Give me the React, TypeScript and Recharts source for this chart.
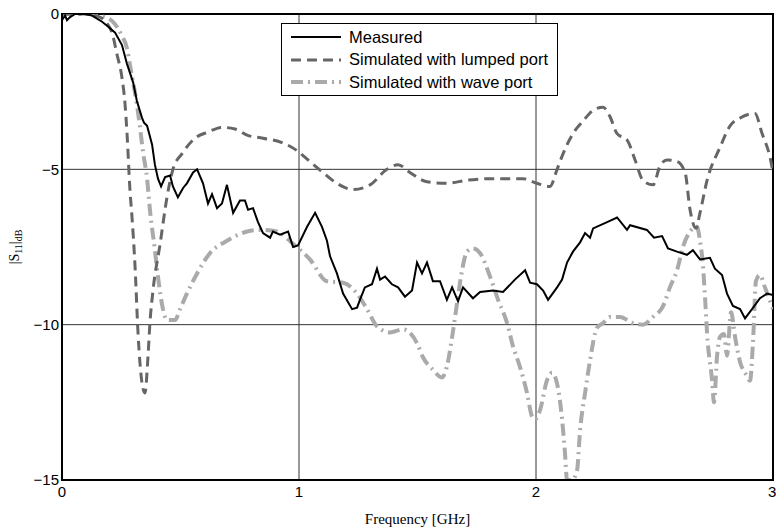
import { CartesianGrid, Legend, Line, LineChart, ReferenceArea, XAxis, YAxis } from 'recharts';

// frequency in GHz, |S11| in dB
const measuredF = [0, 0.013, 0.021, 0.034, 0.055, 0.097, 0.127, 0.169, 0.194, 0.224, 0.253, 0.274, 0.3, 0.316, 0.338, 0.346, 0.359, 0.38, 0.392, 0.405, 0.418, 0.435, 0.456, 0.468, 0.489, 0.511, 0.527, 0.553, 0.57, 0.595, 0.616, 0.633, 0.654, 0.675, 0.696, 0.722, 0.751, 0.772, 0.785, 0.806, 0.827, 0.848, 0.878, 0.89, 0.92, 0.954, 0.975, 0.996, 1.034, 1.068, 1.097, 1.118, 1.131, 1.16, 1.186, 1.224, 1.245, 1.257, 1.278, 1.308, 1.329, 1.342, 1.363, 1.392, 1.418, 1.447, 1.477, 1.498, 1.519, 1.54, 1.565, 1.595, 1.624, 1.646, 1.671, 1.692, 1.734, 1.764, 1.819, 1.861, 1.911, 1.954, 1.975, 2.004, 2.03, 2.051, 2.089, 2.11, 2.131, 2.156, 2.186, 2.207, 2.228, 2.241, 2.3, 2.342, 2.384, 2.397, 2.468, 2.498, 2.532, 2.557, 2.595, 2.637, 2.662, 2.692, 2.734, 2.755, 2.785, 2.806, 2.831, 2.861, 2.882, 2.916, 2.945, 2.975, 3.0];
const measuredDb = [-0.2, -0.05, -0.2, -0.1, 0, 0, -0.05, -0.25, -0.4, -0.6, -1.0, -1.6, -2.2, -2.8, -3.35, -3.5, -3.6, -4.2, -4.85, -5.3, -5.55, -5.25, -5.2, -5.55, -5.9, -5.6, -5.45, -5.1, -5.0, -5.45, -6.1, -5.8, -6.25, -6.1, -5.5, -6.4, -6.0, -6.0, -6.3, -6.25, -6.7, -7.05, -7.2, -7.0, -7.1, -7.0, -7.5, -7.45, -6.85, -6.4, -6.85, -7.3, -7.8, -8.35, -9.0, -9.5, -9.45, -9.2, -8.8, -8.7, -8.2, -8.55, -8.45, -8.7, -8.8, -9.1, -8.9, -8.0, -8.35, -8.0, -8.6, -8.6, -9.2, -8.8, -9.25, -8.8, -9.15, -8.95, -8.9, -8.95, -8.55, -8.25, -8.65, -8.7, -8.9, -9.2, -8.8, -8.55, -8.0, -7.65, -7.35, -7.05, -7.2, -6.9, -6.7, -6.55, -6.95, -6.8, -6.95, -7.2, -7.15, -7.55, -7.65, -7.75, -7.6, -7.9, -7.85, -8.2, -8.4, -9.0, -9.4, -9.5, -9.8, -9.45, -9.15, -9.0, -9.05];

const lumpedF = [0, 0.097, 0.16, 0.19, 0.211, 0.232, 0.253, 0.266, 0.274, 0.287, 0.295, 0.308, 0.321, 0.338, 0.35, 0.363, 0.371, 0.384, 0.414, 0.443, 0.468, 0.506, 0.561, 0.616, 0.675, 0.73, 0.781, 0.848, 0.932, 0.992, 1.046, 1.101, 1.16, 1.228, 1.3, 1.371, 1.418, 1.468, 1.54, 1.624, 1.709, 1.819, 1.945, 2.004, 2.059, 2.089, 2.114, 2.156, 2.198, 2.241, 2.283, 2.312, 2.342, 2.384, 2.418, 2.451, 2.494, 2.523, 2.553, 2.595, 2.629, 2.65, 2.675, 2.692, 2.722, 2.776, 2.819, 2.861, 2.924, 2.954, 2.987, 3.0];
const lumpedDb = [0, 0, -0.1, -0.3, -0.6, -1.3, -2.05, -2.9, -3.8, -5.7, -6.5, -8.1, -10.3, -11.9, -12.2, -11.0, -9.95, -8.9, -7.4, -5.9, -5.0, -4.5, -4.0, -3.8, -3.65, -3.7, -3.9, -4.0, -4.15, -4.4, -4.75, -5.1, -5.45, -5.65, -5.5, -5.0, -4.85, -5.1, -5.4, -5.45, -5.35, -5.3, -5.3, -5.45, -5.55, -5.0, -4.5, -3.85, -3.45, -3.1, -3.0, -3.3, -3.85, -4.05, -4.7, -5.35, -5.5, -4.9, -4.7, -4.75, -5.1, -6.3, -6.9, -6.4, -5.35, -4.3, -3.6, -3.35, -3.2, -3.85, -4.6, -5.1];

const waveF = [0, 0.055, 0.11, 0.181, 0.215, 0.253, 0.274, 0.287, 0.3, 0.316, 0.329, 0.342, 0.359, 0.371, 0.392, 0.405, 0.426, 0.443, 0.477, 0.498, 0.527, 0.57, 0.624, 0.696, 0.781, 0.835, 0.907, 0.975, 1.046, 1.118, 1.186, 1.245, 1.287, 1.329, 1.384, 1.439, 1.498, 1.523, 1.565, 1.603, 1.624, 1.646, 1.667, 1.688, 1.709, 1.734, 1.764, 1.806, 1.84, 1.878, 1.903, 1.932, 1.962, 1.983, 1.996, 2.017, 2.046, 2.068, 2.089, 2.11, 2.122, 2.131, 2.152, 2.173, 2.186, 2.207, 2.228, 2.257, 2.283, 2.312, 2.354, 2.409, 2.451, 2.494, 2.536, 2.565, 2.595, 2.62, 2.65, 2.679, 2.692, 2.705, 2.713, 2.722, 2.743, 2.751, 2.764, 2.776, 2.793, 2.806, 2.823, 2.84, 2.861, 2.886, 2.903, 2.916, 2.928, 2.945, 2.966, 3.0];
const waveDb = [0, 0, 0, -0.1, -0.25, -0.7, -1.1, -1.65, -2.2, -2.9, -3.65, -4.45, -5.3, -6.3, -7.6, -8.45, -9.5, -9.85, -9.85, -9.5, -9.0, -8.35, -7.7, -7.3, -7.0, -6.95, -7.0, -7.4, -7.9, -8.6, -8.65, -9.0, -9.5, -10.05, -10.25, -10.15, -10.6, -11.05, -11.45, -11.7, -11.35, -10.4, -9.3, -8.25, -7.65, -7.55, -7.7, -8.45, -9.2, -9.95, -10.7, -11.35, -12.2, -12.95, -13.05, -12.75, -11.8, -11.55, -11.9, -13.05, -14.1, -15, -15, -14.7, -13.4, -12.2, -11.15, -10.1, -9.95, -9.75, -9.75, -9.95, -10.0, -9.75, -9.4, -8.8, -8.25, -7.5, -7.0, -6.85, -7.3, -8.15, -9.1, -10.3, -11.8, -12.5, -11.0, -10.4, -10.3, -11.0, -9.6, -10.4, -11.2, -11.6, -11.8, -10.5, -8.6, -8.4, -8.8, -9.5];

const xTicks = [0, 1, 2, 3];
const yTicks = [-15, -10, -5, 0];
const seriesNames = ['Measured', 'Simulated with lumped port', 'Simulated with wave port'];

const toRows = (f: number[], v: number[]) => f.map((x, i) => ({ f: x, v: v[i] }));
const measured = toRows(measuredF, measuredDb);
const lumped = toRows(lumpedF, lumpedDb);
const wave = toRows(waveF, waveDb);

const styles = [
  { stroke: '#000000', width: 2, dash: undefined as string | undefined },
  { stroke: '#666666', width: 3, dash: '10 6' },
  { stroke: '#aaaaaa', width: 4, dash: '12 5 2 5' },
];

const sans = '"Liberation Sans", Arial, sans-serif';
const serif = '"Liberation Serif", "DejaVu Serif", serif';

const LegendBox = () => (
  <div
    style={{
      border: '1px solid #000',
      background: '#fff',
      width: 277,
      height: 73,
      boxSizing: 'border-box',
      paddingTop: 2,
      fontFamily: sans,
      fontSize: 16.5,
      color: '#000',
    }}
  >
    {seriesNames.map((name, i) => (
      <div key={name} style={{ display: 'flex', alignItems: 'center', height: 22.5 }}>
        <svg width={67} height={10} style={{ flex: 'none' }}>
          <line
            x1={9}
            x2={59}
            y1={5}
            y2={5}
            stroke={styles[i].stroke}
            strokeWidth={styles[i].width}
            strokeDasharray={styles[i].dash}
          />
        </svg>
        <span style={{ whiteSpace: 'nowrap' }}>{name}</span>
      </div>
    ))}
  </div>
);

const fmt = (v: number) => (v < 0 ? '\u2212' + Math.abs(v) : String(v));

export default function App() {
  return (
    <div style={{ position: 'absolute', left: 0, top: 0, background: '#fff' }}>
      <LineChart width={776} height={531} margin={{ top: 14, right: 3, bottom: 21, left: 22 }}>
        <CartesianGrid stroke="#333" strokeWidth={1} />
        <XAxis
          type="number"
          dataKey="f"
          domain={[0, 3]}
          ticks={xTicks}
          allowDataOverflow
          height={30}
          axisLine={{ stroke: '#000', strokeWidth: 2 }}
          tickLine={false}
          tickSize={4}
          tickMargin={2}
          tick={{ fill: '#000', fontSize: 15, fontFamily: sans }}
          label={{ value: 'Frequency [GHz]', position: 'insideBottom', offset: -14, fill: '#000', fontSize: 15, fontFamily: serif }}
        />
        <YAxis
          type="number"
          domain={[-15, 0]}
          ticks={yTicks}
          allowDataOverflow
          width={40}
          tickFormatter={fmt}
          axisLine={{ stroke: '#000', strokeWidth: 2 }}
          tickLine={false}
          tickSize={2}
          tickMargin={1}
          tick={{ fill: '#000', fontSize: 15, fontFamily: sans }}
          label={({ viewBox }: any) => {
            const cy = viewBox ? viewBox.y + viewBox.height / 2 : 247;
            return (
              <text
                x={19}
                y={cy}
                transform={`rotate(-90, 19, ${cy})`}
                textAnchor="middle"
                fontFamily={serif}
                fontSize={14}
                fill="#000"
              >
                |S<tspan fontSize={10} dy={3}>11</tspan>
                <tspan dy={-3}>|</tspan>
                <tspan fontSize={10} dy={3}>dB</tspan>
              </text>
            );
          }}
        />
        <ReferenceArea x1={0} x2={3} y1={-15} y2={0} fill="none" stroke="#000" strokeWidth={2} ifOverflow="visible" />
        <Legend
          layout="horizontal"
          verticalAlign="middle"
          align="center"
          wrapperStyle={{ position: 'absolute', left: 281, top: 23, width: 277, height: 73 }}
          content={() => <LegendBox />}
        />
        <Line data={wave} dataKey="v" name={seriesNames[2]} type="monotone" stroke={styles[2].stroke} strokeWidth={styles[2].width} strokeDasharray={styles[2].dash} dot={false} activeDot={false} isAnimationActive={false} />
        <Line data={lumped} dataKey="v" name={seriesNames[1]} type="monotone" stroke={styles[1].stroke} strokeWidth={styles[1].width} strokeDasharray={styles[1].dash} dot={false} activeDot={false} isAnimationActive={false} />
        <Line data={measured} dataKey="v" name={seriesNames[0]} type="linear" stroke={styles[0].stroke} strokeWidth={styles[0].width} dot={false} activeDot={false} isAnimationActive={false} />
      </LineChart>
    </div>
  );
}
